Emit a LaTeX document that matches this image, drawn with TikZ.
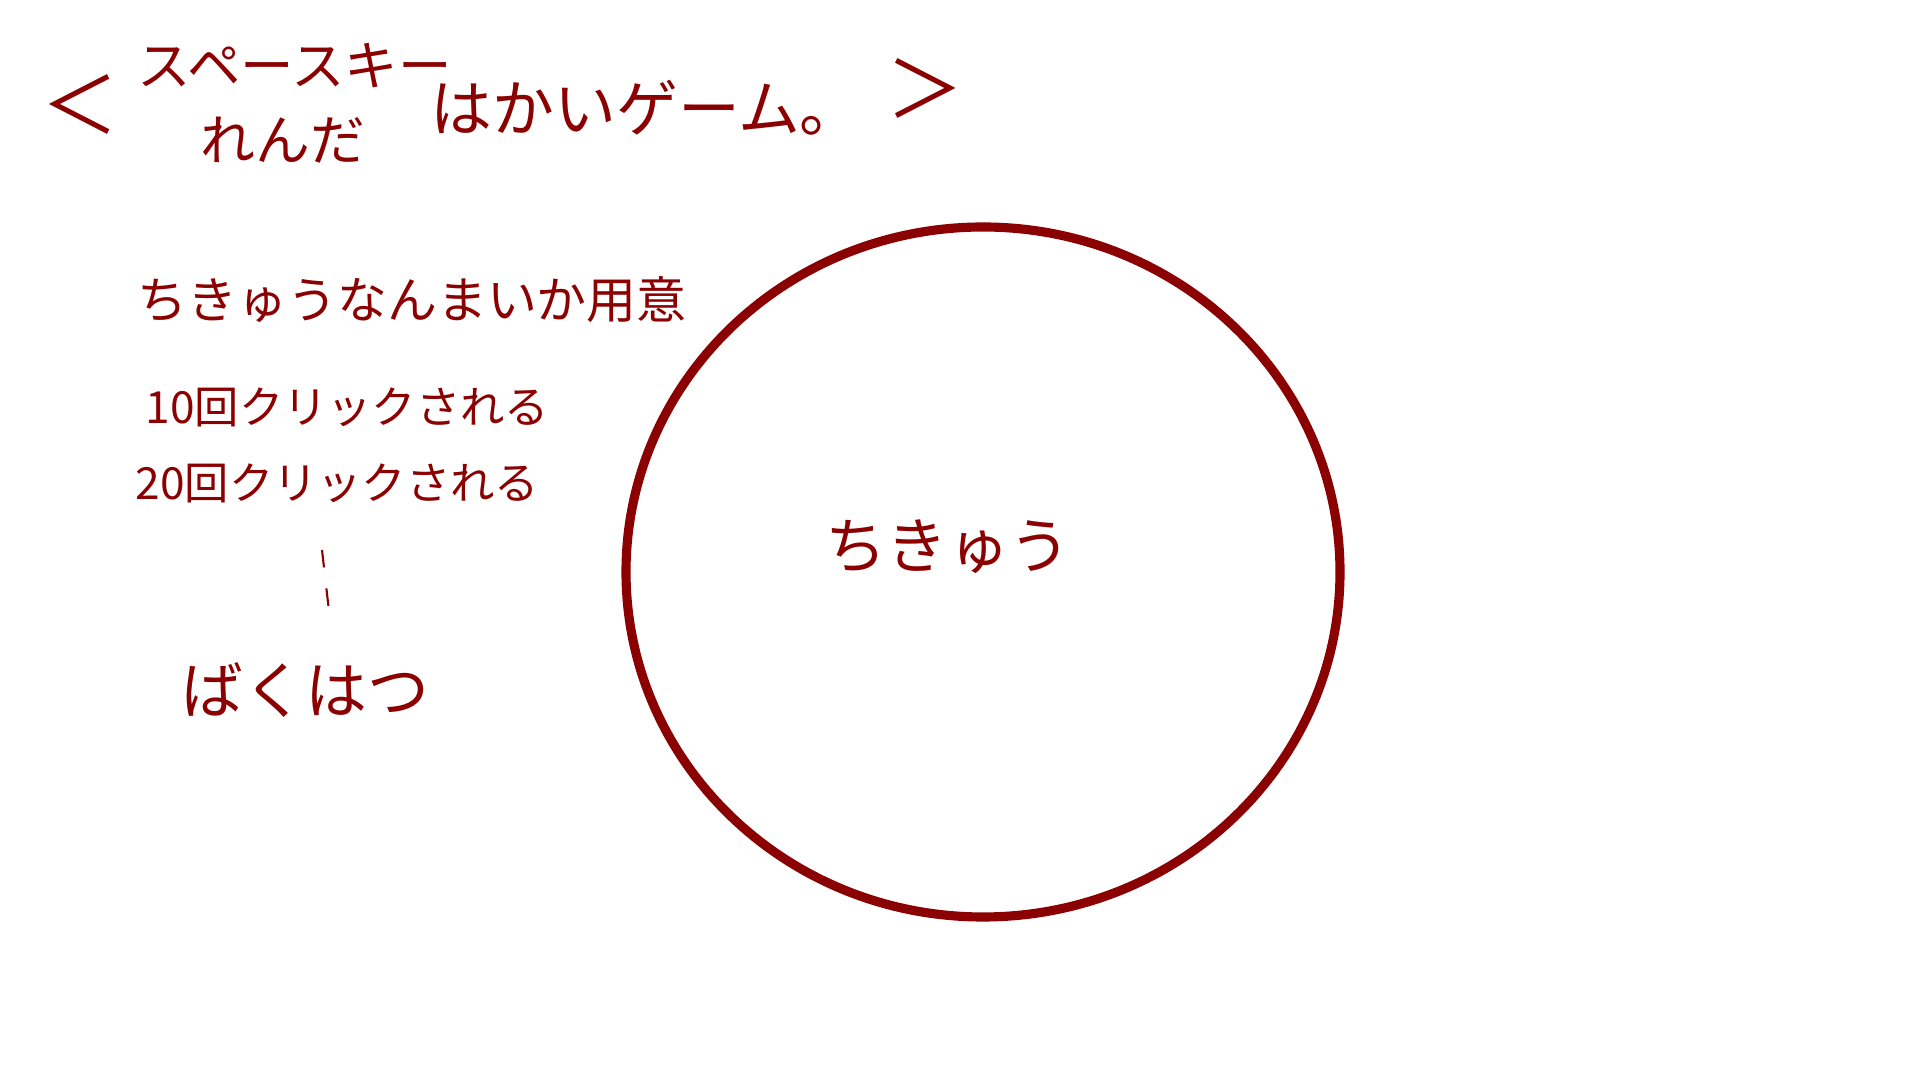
\documentclass[tikz,border=0pt]{standalone}
\usepackage{fontspec}
\newfontfamily\jp{Noto Sans CJK JP}
\usetikzlibrary{positioning}
\definecolor{ink}{HTML}{8B0000}

\begin{document}
\begin{tikzpicture}[inner sep=0pt, every node/.style={text=ink, font=\jp},
    note/.style={anchor=west, font=\jp\fontsize{#1}{#1}\selectfont},
    planet/.style={draw=ink, line width=2.6pt},
    dashline/.style={draw=ink, line width=0.6pt, dash pattern=on 5pt off 6pt}]
          \useasboundingbox (0,0) rectangle (19.2,10.8);
          % title
          \node (lt) at (0.80,9.76) [font=\jp\fontsize{22}{22}\selectfont] {＜};
          \node (space) at (1.37,10.14) [note=15.2] {スペースキー};
          \node (renda) at (2.00,9.40) [note=15.6] {れんだ};
          \node (hakai) at (4.30,9.72) [note=17.6] {はかいゲーム。};
          \node (gt) at (9.25,9.92) [font=\jp\fontsize{22}{22}\selectfont] {＞};
          % rules
          \node (prep) at (1.37,7.80) [note=14.2] {ちきゅうなんまいか用意};
          \node (ten) at (1.45,6.73) [note=12.6] {10回クリックされる};
          \node (twenty) at (1.35,5.97) [note=12.6] {20回クリックされる};
          \node (boom) at (1.81,3.90) [note=17.6] {ばくはつ};
          \coordinate (dtop) at (3.22,5.30);
          \coordinate (dbot) at (3.30,4.60);
          \draw[dashline] (dtop) -- (dbot);
          % the earth
          \coordinate (earth) at (9.83,5.08);
          \draw[planet] (earth) ellipse [x radius=3.57, y radius=3.45];
          \node (chikyu) at (9.48,5.33) [font=\jp\fontsize{17.4}{17.4}\selectfont] {ちきゅう};
      \end{tikzpicture}
\end{document}
